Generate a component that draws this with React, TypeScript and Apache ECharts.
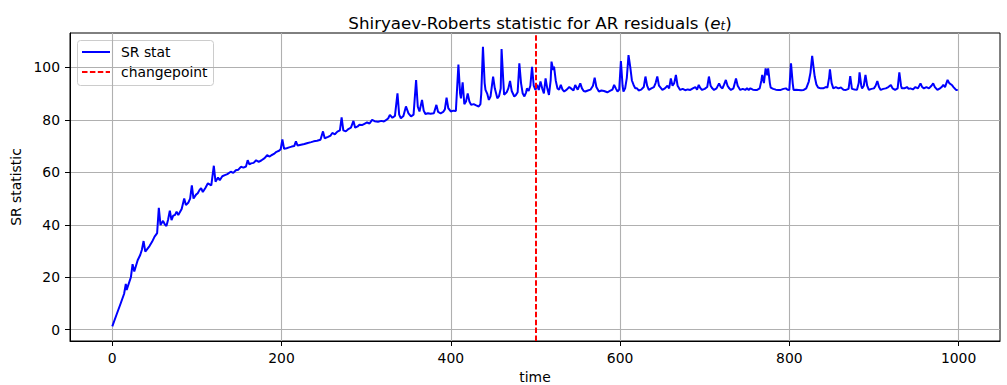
import React, { useEffect, useRef } from "react";
import * as echarts from "echarts";

// [time, SR statistic]
const srEarly: number[][] = [
  [0, 1.3], [5, 5.7], [10, 10.1], [14, 13.7], [16, 17.5], [17, 15.2], [22, 20], [24, 25], [26, 22.2],
  [30, 26.5], [33, 28.5], [35, 30.5], [37, 33.8], [39, 29.8], [44, 31.9], [47, 33.5], [50, 35.5],
  [53, 36.8], [55, 46.5], [57, 39.9], [60, 41.5], [62, 40.2], [64, 39.5], [66, 42], [68, 45.4],
  [70, 41.8], [72, 43.5], [74, 43.7], [76, 45], [78, 43.7], [82, 46], [85, 50], [87, 47.5], [90, 48.5],
  [92, 50], [94, 55], [96, 50], [99, 51.5], [101, 52], [103, 53.2], [105, 54], [107, 52.5], [110, 54],
  [113, 55.8], [117, 55], [120, 62.5], [122, 56.4], [125, 58], [127, 57], [130, 58.5], [133, 58.9],
  [136, 59.3], [140, 60.2], [143, 59.8], [146, 60.8], [149, 61], [152, 62.1], [155, 61.8], [158, 62.2],
  [160, 64.6], [162, 63], [164, 63.4], [167, 63.6], [170, 64.6], [173, 64], [176, 64.5], [180, 65.4],
  [183, 66.5], [186, 66], [188, 66.5], [191, 67], [194, 67.8], [197, 68.2], [199, 68.8], [201, 72.5],
  [203, 69], [206, 69.2], [209, 69.5], [212, 69.8], [215, 70], [217, 71.8], [219, 70.2], [223, 70.5],
  [227, 70.8], [231, 71.2], [235, 71.5], [238, 71.8], [242, 72], [246, 72.4],
];

const srMid: number[][] = [
  [249, 75.6], [251, 73], [255, 73.5], [258, 74], [260, 75], [263, 74.5], [266, 75.5], [269, 76],
  [271, 80.9], [273, 76], [276, 75.6], [279, 76.5], [282, 77], [285, 79.6], [287, 77], [290, 77.5],
  [292, 78.1], [295, 78], [298, 78.5], [301, 79], [304, 78.6], [307, 80], [310, 79.5], [314, 79.3],
  [318, 79.6], [321, 79.4], [323, 79.8], [326, 80.5], [328, 81.9], [331, 80.8], [334, 81.5], [337, 90.1],
  [339, 82], [341, 80.6], [344, 81.5], [347, 85.1], [350, 82.5], [353, 81.3], [356, 82], [359, 95.2],
  [361, 85], [363, 83.2], [366, 87.6], [368, 83.5], [370, 82.2], [373, 82.5], [376, 82.3], [380, 82.5],
  [383, 85.7], [385, 83], [388, 82.5], [391, 83], [393, 84], [395, 88.5], [397, 84.5], [400, 83.2],
  [403, 83.5], [406, 83.4], [409, 101.1], [411, 90], [412, 88.2], [414, 94.3], [416, 86], [418, 87],
  [420, 90.1], [422, 87], [424, 85.7], [427, 86], [430, 85.5], [433, 85.1], [435, 86], [436, 90],
  [438, 107.8], [440, 94], [441, 91.4], [443, 90], [445, 87.6], [447, 89], [450, 96.5], [452, 92],
  [455, 88.2], [457, 89], [459, 92], [460, 107], [462, 95], [463, 89.6], [466, 90.5], [468, 92],
  [470, 94.8], [472, 91], [475, 88.9], [477, 89.5], [479, 90.5], [481, 101.5], [483, 94], [485, 90],
  [487, 88.9], [489, 90.5], [490, 92], [492, 91], [494, 93], [496, 100.2], [498, 93], [500, 91.4],
];

const srPostA: number[][] = [
  [502, 93.3], [504, 91.4], [506, 94.6], [508, 92], [510, 90.1], [512, 95.8], [514, 92], [516, 89.5],
  [518, 95], [519, 102.2], [521, 99], [522, 100.3], [524, 95], [526, 92], [528, 91.5], [530, 93.3],
  [532, 91.5], [534, 90.8], [537, 91.5], [540, 92.5], [542, 92], [545, 91.2], [547, 93.3], [550, 91.5],
  [553, 93.9], [555, 92], [557, 91], [559, 90.8], [562, 91.2], [565, 91.5], [568, 93], [570, 96.1],
  [572, 92.5], [575, 90.8], [578, 91.2], [581, 91], [585, 90.5], [588, 91], [591, 91.5], [593, 93.3],
  [595, 92], [597, 90.8], [599, 91.5], [601, 102.4], [603, 93], [604, 90.8], [606, 92], [608, 96],
  [610, 104.7], [612, 100.3], [614, 95], [616, 93.3], [618, 92], [620, 92], [622, 91.2], [625, 91.5],
  [628, 92.5], [630, 96.5], [632, 93], [634, 91.4], [637, 92], [640, 92.5], [642, 94], [644, 96.5],
  [646, 93], [650, 91.4], [653, 92], [656, 93], [658, 92], [660, 95.8], [662, 93], [664, 94], [666, 97.1],
  [668, 93], [671, 91.4], [674, 91.8], [677, 91.3], [680, 91.6], [683, 91.4], [686, 92], [689, 92.5],
  [691, 91.5], [693, 93.3], [695, 92], [697, 91.4], [700, 91.8], [703, 92.5], [705, 96.5], [707, 93],
  [709, 92], [711, 91.4], [714, 92], [717, 93.9], [719, 92.5], [721, 92], [723, 93.5], [725, 95.2],
  [727, 93], [729, 92], [731, 91.4], [734, 92], [737, 95.8], [739, 93], [742, 91.4], [745, 91.8],
  [748, 91.4], [750, 92], [752, 91.4],
];

const srPostB: number[][] = [
  [754, 92], [757, 91.5], [760, 91.4], [762, 91.4], [765, 92], [767, 95], [768, 97.1], [770, 94],
  [772, 99.6], [774, 97], [775, 99.6], [777, 94], [778, 92.3], [781, 91.8], [784, 91.5], [787, 91.4],
  [790, 91.4], [793, 91.8], [796, 92], [798, 91.5], [800, 91.4], [802, 101.5], [804, 94], [805, 91.4],
  [808, 91.5], [811, 91.4], [814, 91.3], [817, 91.4], [820, 92], [823, 94.6], [825, 98], [827, 104.4],
  [829, 99], [830, 96.5], [832, 93.5], [834, 92.3], [837, 92], [840, 92], [843, 92.5], [845, 92.3],
  [847, 96], [848, 99.2], [850, 94], [852, 92], [855, 92.5], [858, 92], [861, 92.3], [864, 91.5],
  [867, 91.4], [870, 91.8], [872, 96.7], [874, 91.8], [877, 91.6], [880, 91.5], [882, 94], [883, 98.1],
  [885, 93], [886, 92], [888, 93], [890, 97.1], [892, 93], [894, 91.4], [897, 91.8], [900, 92],
  [902, 93], [904, 94.8], [906, 92.5], [908, 91.4], [911, 91.8], [914, 92], [917, 92.5], [920, 93.3],
  [922, 92], [925, 91.4], [928, 92], [930, 98.1], [932, 93], [933, 92], [936, 92], [939, 92.5],
  [941, 91.8], [943, 92], [946, 91.6], [949, 92.5], [952, 92], [955, 93.9], [957, 92.5], [959, 92],
  [962, 92.5], [965, 92], [968, 93], [970, 93.9], [972, 92.5], [975, 91.4], [978, 92], [980, 92.5],
  [982, 93.3], [984, 92.5], [987, 95.2], [989, 94], [992, 93.3], [994, 92.5], [997, 91.4], [999, 91.4],
];

const changepointTime = 500;
const xTicks = [0, 200, 400, 600, 800, 1000];
const yTicks = [0, 20, 40, 60, 80, 100];
const xRange = [-49.95, 1048.95];
const yRange = [-4.3, 113.1];
const legendLabels = ["SR stat", "changepoint"];

const FONT = "DejaVu Sans";
const BLUE = "#0000ff";
const RED = "#ff0000";
const DASH = [5.5, 2.4];

export default function App() {
  const ref = useRef<HTMLDivElement>(null);

  useEffect(() => {
    if (!ref.current) return;
    const chart = echarts.init(ref.current, undefined, { renderer: "svg" });
    const srData = [...srEarly, ...srMid, ...srPostA, ...srPostB];
    const plain = (v: number) => String(v);

    chart.setOption({
      animation: false,
      backgroundColor: "#ffffff",
      textStyle: { fontFamily: FONT, color: "#000" },
      title: {
        text: "Shiryaev-Roberts statistic for AR residuals ({e|e}{t|t})",
        left: 535,
        textAlign: "center",
        top: 8,
        textStyle: {
          fontFamily: FONT,
          fontSize: 16.7,
          fontWeight: "normal",
          color: "#000",
          rich: {
            e: { fontFamily: FONT, fontSize: 16.7, fontStyle: "italic", color: "#000" },
            t: {
              fontFamily: FONT,
              fontSize: 11.7,
              fontStyle: "italic",
              color: "#000",
              verticalAlign: "bottom",
              padding: [7, 0, 0, 0],
            },
          },
        },
      },
      graphic: [
        {
          type: "group",
          left: 77,
          top: 40,
          z: 100,
          children: [
            {
              type: "rect",
              shape: { x: 0.5, y: 0.5, width: 136, height: 45, r: 3 },
              style: { fill: "rgba(255,255,255,0.8)", stroke: "#cccccc", lineWidth: 1 },
            },
            {
              type: "line",
              shape: { x1: 5, y1: 12, x2: 33, y2: 12 },
              style: { stroke: BLUE, lineWidth: 2 },
            },
            {
              type: "text",
              x: 44,
              y: 12,
              style: {
                text: legendLabels[0],
                fontFamily: FONT,
                fontSize: 13.9,
                fill: "#000",
                verticalAlign: "middle",
              },
            },
            {
              type: "line",
              shape: { x1: 5, y1: 32, x2: 33, y2: 32 },
              style: { stroke: RED, lineWidth: 2, lineDash: DASH },
            },
            {
              type: "text",
              x: 44,
              y: 32,
              style: {
                text: legendLabels[1],
                fontFamily: FONT,
                fontSize: 13.9,
                fill: "#000",
                verticalAlign: "middle",
              },
            },
          ],
        },
      ],
      grid: {
        left: 70,
        right: 7,
        top: 33,
        bottom: 44,
        outerBoundsMode: "none",
        containLabel: false,
        show: true,
        borderColor: "#000",
        borderWidth: 1,
        backgroundColor: "transparent",
      },
      xAxis: {
        type: "value",
        min: xRange[0],
        max: xRange[1],
        minInterval: 200,
        maxInterval: 200,
        name: "time",
        nameLocation: "middle",
        nameGap: 28,
        nameTextStyle: { fontFamily: FONT, fontSize: 13.9, color: "#000" },
        axisLine: { show: true, onZero: false, lineStyle: { color: "#000", width: 1 } },
        axisTick: { show: true, length: 5, lineStyle: { color: "#000", width: 1 }, customValues: xTicks },
        axisLabel: {
          fontFamily: FONT,
          fontSize: 13.9,
          color: "#000",
          margin: 10,
          customValues: xTicks,
          formatter: plain,
        },
        splitLine: { show: true, lineStyle: { color: "#b0b0b0", width: 1.1 } },
      },
      yAxis: {
        type: "value",
        min: yRange[0],
        max: yRange[1],
        minInterval: 20,
        maxInterval: 20,
        name: "SR statistic",
        nameLocation: "middle",
        nameGap: 41,
        nameTextStyle: { fontFamily: FONT, fontSize: 13.9, color: "#000" },
        axisLine: { show: true, onZero: false, lineStyle: { color: "#000", width: 1 } },
        axisTick: { show: true, length: 5, lineStyle: { color: "#000", width: 1 }, customValues: yTicks },
        axisLabel: {
          fontFamily: FONT,
          fontSize: 13.9,
          color: "#000",
          margin: 10,
          customValues: yTicks,
          formatter: plain,
        },
        splitLine: { show: true, lineStyle: { color: "#b0b0b0", width: 1.1 } },
      },
      series: [
        {
          name: legendLabels[0],
          type: "line",
          data: srData,
          showSymbol: false,
          symbol: "none",
          lineStyle: { color: BLUE, width: 2 },
          itemStyle: { color: BLUE },
          z: 3,
        },
        {
          name: legendLabels[1],
          type: "line",
          data: [],
          symbol: "none",
          lineStyle: { color: RED, width: 2, type: DASH },
          itemStyle: { color: RED },
          markLine: {
            silent: true,
            symbol: "none",
            label: { show: false },
            lineStyle: { color: RED, width: 2, type: DASH },
            data: [{ xAxis: changepointTime }],
          },
          z: 4,
        },
      ],
    });

    return () => chart.dispose();
  }, []);

  return (
    <div
      ref={ref}
      style={{ position: "fixed", left: 0, top: 0, width: 1007, height: 385, background: "#fff" }}
    />
  );
}
